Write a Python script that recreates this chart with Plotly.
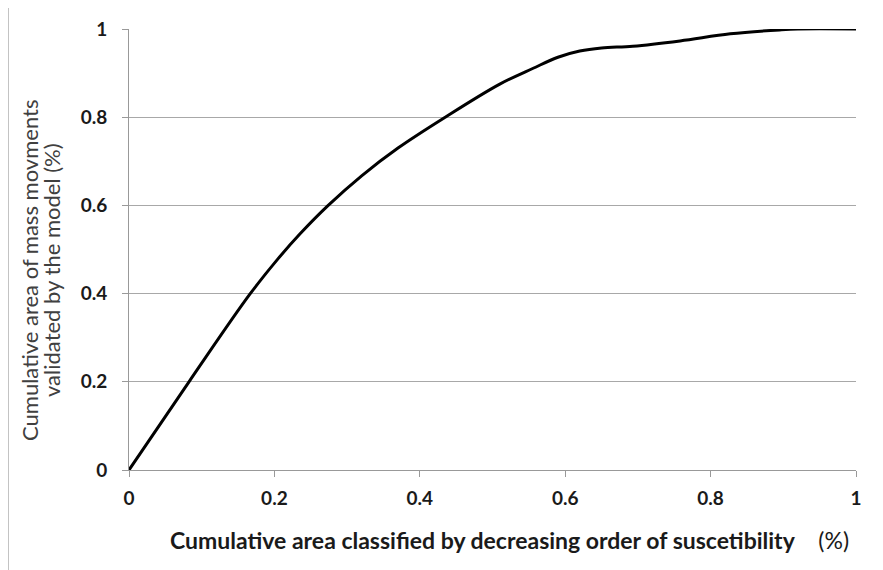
import plotly.graph_objects as go

# cumulative area (x) vs cumulative validated mass movements (y)
area = [0, 0.0825, 0.166, 0.204, 0.235, 0.274, 0.32, 0.37, 0.435,
        0.51, 0.556, 0.59, 0.62, 0.65, 0.693, 0.758, 0.827, 0.895, 0.92, 1.0]
validated = [0, 0.2, 0.398, 0.477, 0.535, 0.6, 0.667, 0.73, 0.8,
             0.875, 0.911, 0.936, 0.95, 0.957, 0.961, 0.973, 0.989, 0.998, 1.0, 1.0]

tick_vals = [0, 0.2, 0.4, 0.6, 0.8, 1]
tick_text = ['0', '0.2', '0.4', '0.6', '0.8', '1']

fnt = 'Lato, Open Sans, sans-serif'

fig = go.Figure()
fig.add_trace(go.Scatter(x=area, y=validated, mode='lines',
                         line={'color': 'black', 'width': 3, 'shape': 'spline', 'smoothing': 1.0},
                         showlegend=False))

axis_common = dict(range=[0, 1], tickvals=tick_vals, ticktext=tick_text,
                   ticks='outside', ticklen=6, tickcolor='#999999',
                   showline=True, linecolor='#999999', linewidth=1,
                   tickfont={'family': fnt, 'size': 19, 'color': '#1a1a1a', 'weight': 'bold'},
                   zeroline=False, automargin=False)

fig.update_xaxes(**axis_common, showgrid=False, ticklabelstandoff=5)
fig.update_yaxes(**axis_common, showgrid=True, gridcolor='#a8a8a8', gridwidth=1, ticklabelstandoff=11)

fig.add_annotation(text='<b>Cumulative area classified by decreasing order of suscetibility</b>'
                        '&nbsp;&nbsp;&nbsp;&nbsp;(%)',
                   xref='paper', yref='paper', x=0.5227, y=-0.1587, xanchor='center', yanchor='middle',
                   showarrow=False, font={'family': fnt, 'size': 23, 'color': '#1a1a1a'})
# y title, two lines placed separately to keep the tight line pitch
fig.add_annotation(text='Cumulative area of mass movments',
                   xref='paper', yref='paper', x=-0.1376, y=0.4535, xanchor='center', yanchor='middle',
                   showarrow=False, textangle=-90, font={'family': fnt, 'size': 22, 'color': '#404040'})
fig.add_annotation(text='validated by the model (%)',
                   xref='paper', yref='paper', x=-0.1073, y=0.4535, xanchor='center', yanchor='middle',
                   showarrow=False, textangle=-90, font={'family': fnt, 'size': 22, 'color': '#404040'})

# outer chart border (right and bottom edges fall outside the picture)
fig.add_shape(type='rect', xref='paper', yref='paper', x0=-0.1664, y0=-0.3, x1=1.1, y1=1.0499,
              line={'color': '#8c8c8c', 'width': 1}, layer='below')

fig.update_layout(width=875, height=562, margin={'l': 121, 'r': 27, 't': 21, 'b': 100},
                  plot_bgcolor='white', paper_bgcolor='white')
fig.write_html('out.html')
